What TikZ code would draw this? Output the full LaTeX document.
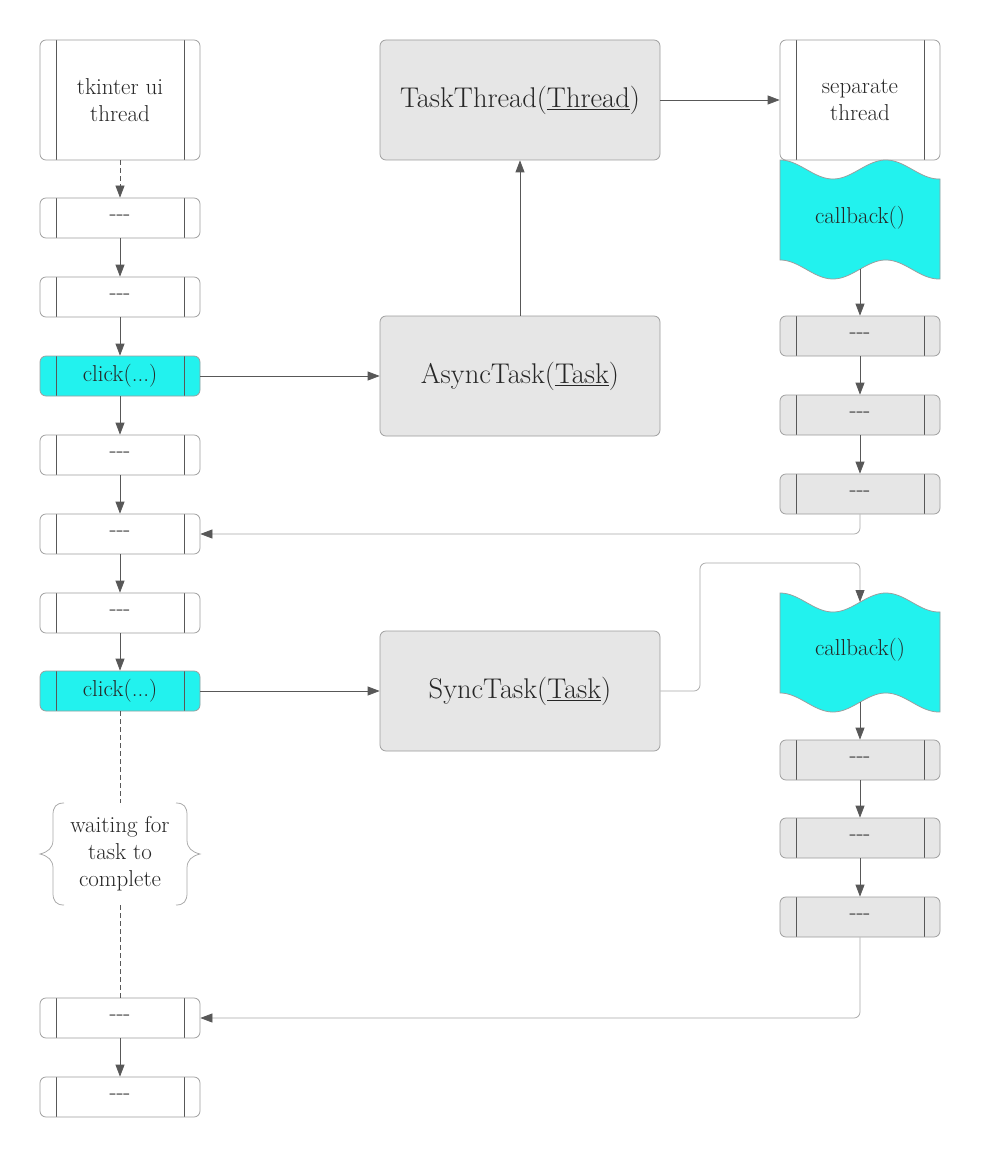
\documentclass[tikz,border=0pt]{standalone}
\usetikzlibrary{arrows.meta}
\definecolor{linedark}{HTML}{585858}
\definecolor{linelight}{HTML}{A8A8A8}
\definecolor{boxborder}{HTML}{9C9C9C}
\definecolor{cyanfill}{HTML}{22F2EE}
\definecolor{grayfill}{HTML}{E6E6E6}
\definecolor{txt}{HTML}{262626}
\begin{document}
\begin{tikzpicture}[x=1pt,y=-1pt,line width=0.75pt,
  txtfont/.style={text=txt,font=\fontsize{23}{27}\selectfont},
  proc/.style={txtfont,draw=boxborder,rounded corners=6pt,minimum width=160pt,
    minimum height=40pt,inner sep=0pt,align=center,
    path picture={\draw[linedark,line width=0.75pt]
      ([xshift=16pt]path picture bounding box.north west) -- ([xshift=16pt]path picture bounding box.south west)
      ([xshift=-16pt]path picture bounding box.north east) -- ([xshift=-16pt]path picture bounding box.south east);}},
  procbig/.style={proc,minimum height=120pt},
  cyanbox/.style={fill=cyanfill},
  graybox/.style={fill=grayfill},
  task/.style={draw=boxborder,fill=grayfill,rounded corners=6pt,minimum width=280pt,
    minimum height=120pt,inner sep=0pt,text=txt,font=\fontsize{28.5}{34}\selectfont},
  arr/.style={draw=linedark,-{Triangle[length=12pt,width=9pt,color=linedark]}},
  lightarr/.style={draw=linelight,rounded corners=6pt,-{Triangle[length=12pt,width=9pt,color=linedark]}},
  dashline/.style={draw=linedark,dash pattern=on 5pt off 3pt},
  brace/.style={draw=linelight,line width=0.75pt},
  wave/.style={draw=boxborder,fill=cyanfill,line width=0.75pt}
]
\fill[white] (0,0) rectangle (980,1158);
\useasboundingbox (0,0) rectangle (980,1158);

% left column
\node[procbig] (u0) at (120,100) {tkinter ui\\thread};
\node[proc] (u1) at (120,218) {-{}-{}-};
\node[proc] (u2) at (120,297) {-{}-{}-};
\node[proc,cyanbox] (c1) at (120,376) {click(...)};
\node[proc] (u3) at (120,455) {-{}-{}-};
\node[proc] (u4) at (120,534) {-{}-{}-};
\node[proc] (u5) at (120,613) {-{}-{}-};
\node[proc,cyanbox] (c2) at (120,691) {click(...)};
\node[txtfont,minimum width=160pt,minimum height=102pt,inner sep=0pt,align=center] (w) at (120,854) {waiting for\\task to\\complete};
\node[proc] (u6) at (120,1018) {-{}-{}-};
\node[proc] (u7) at (120,1097) {-{}-{}-};

% braces
\draw[brace] (64,803) .. controls (56,803) and (53,807) .. (53,815) -- (53,840)
  .. controls (53,848) and (48,852) .. (40,854) .. controls (48,856) and (53,860) .. (53,868)
  -- (53,893) .. controls (53,901) and (56,905) .. (64,905);
\draw[brace] (176,803) .. controls (184,803) and (187,807) .. (187,815) -- (187,840)
  .. controls (187,848) and (192,852) .. (200,854) .. controls (192,856) and (187,860) .. (187,868)
  -- (187,893) .. controls (187,901) and (184,905) .. (176,905);

% middle
\node[task] (tt) at (520,100) {TaskThread(\underline{Thread})};
\node[task] (at) at (520,376) {AsyncTask(\underline{Task})};
\node[task] (sy) at (520,691) {SyncTask(\underline{Task})};

% right column
\node[procbig] (st) at (860,100) {separate\\thread};
\path[wave] plot[domain=780:940,samples=80] (\x,{160+9.5-9.5*cos(3.4*(\x-780))})
  -- plot[domain=940:780,samples=80] (\x,{260+9.5-9.5*cos(3.4*(\x-780))}) -- cycle;
\node[txtfont] (cb1) at (860,218) {callback()};
\coordinate (cb1bot) at (860,269);
\node[proc,graybox] (r1) at (860,336) {-{}-{}-};
\node[proc,graybox] (r2) at (860,415) {-{}-{}-};
\node[proc,graybox] (r3) at (860,494) {-{}-{}-};

\path[wave] plot[domain=780:940,samples=80] (\x,{593+9.5-9.5*cos(3.4*(\x-780))})
  -- plot[domain=940:780,samples=80] (\x,{693+9.5-9.5*cos(3.4*(\x-780))}) -- cycle;
\node[txtfont] (cb2) at (860,650) {callback()};
\coordinate (cb2top) at (860,602);
\coordinate (cb2bot) at (860,702);
\node[proc,graybox] (r4) at (860,760) {-{}-{}-};
\node[proc,graybox] (r5) at (860,838) {-{}-{}-};
\node[proc,graybox] (r6) at (860,917) {-{}-{}-};
\coordinate (bend) at (700,563);

% connectors left column
\draw[dashline,-{Triangle[length=12pt,width=9pt,color=linedark]}] (u0) -- (u1);
\draw[arr] (u1) -- (u2);
\draw[arr] (u2) -- (c1);
\draw[arr] (c1) -- (u3);
\draw[arr] (u3) -- (u4);
\draw[arr] (u4) -- (u5);
\draw[arr] (u5) -- (c2);
\draw[dashline] (c2) -- (w);
\draw[dashline] (w) -- (u6);
\draw[arr] (u6) -- (u7);

% middle connectors
\draw[arr] (c1) -- (at);
\draw[arr] (at) -- (tt);
\draw[arr] (tt) -- (st);
\draw[arr] (c2) -- (sy);
\draw[lightarr] (sy.east) -| (bend) -| (cb2top);

% right connectors
\draw[arr] (cb1bot) -- (r1);
\draw[arr] (r1) -- (r2);
\draw[arr] (r2) -- (r3);
\draw[lightarr] (r3.south) |- (u4.east);
\draw[arr] (cb2bot) -- (r4);
\draw[arr] (r4) -- (r5);
\draw[arr] (r5) -- (r6);
\draw[lightarr] (r6.south) |- (u6.east);
\end{tikzpicture}
\end{document}
